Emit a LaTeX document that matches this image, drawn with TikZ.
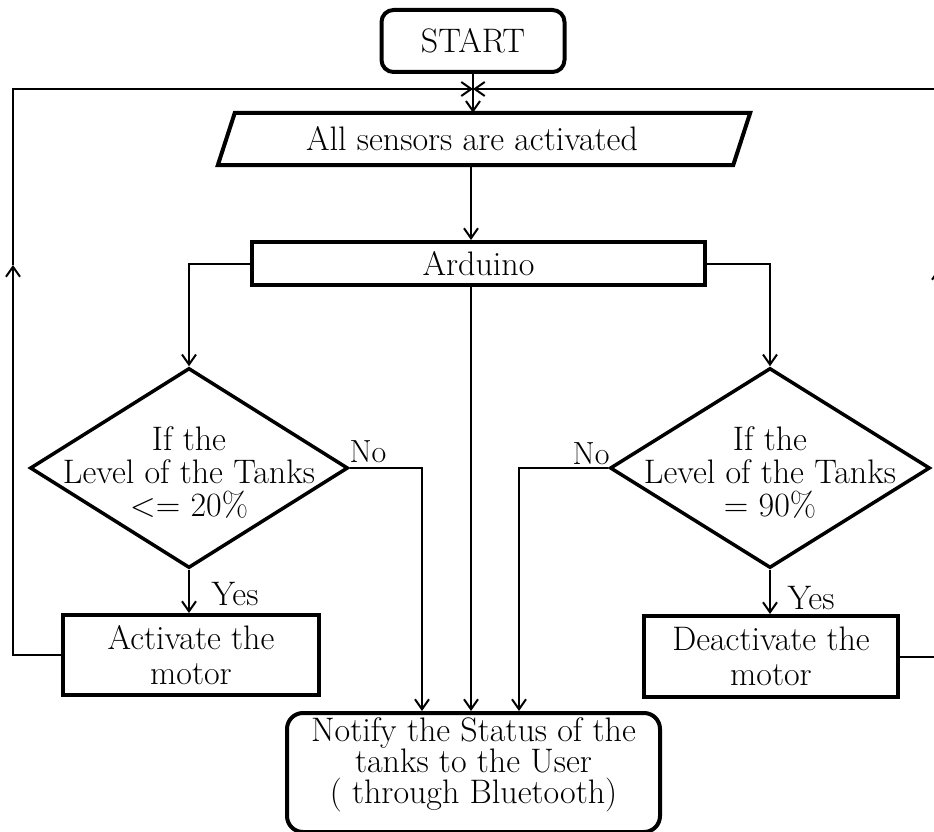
\documentclass[tikz,border=0pt]{standalone}
\usetikzlibrary{shapes.geometric,arrows.meta}
\begin{document}
\begin{tikzpicture}[x=1pt,y=-1pt,
  every node/.style={font=\fontsize{34}{33}\selectfont},
  box/.style={draw, line width=4pt, rectangle, inner sep=0pt, align=center},
  rbox/.style={box, rounded corners=12pt},
  dia/.style={draw, line width=3.5pt, diamond, inner sep=0pt},
  con/.style={line width=2pt},
  arr/.style={con, -{Straight Barb[length=10pt,width=14pt]}},
  nolab/.style={font=\fontsize{32}{32}\selectfont}]
\useasboundingbox (0,0) rectangle (934,832);
% nodes
\node[rbox, minimum width=183pt, minimum height=62pt] (start) at (473,41) {START};
\node[rectangle, inner sep=0pt, minimum width=515pt, minimum height=52pt,
      label={[xshift=-12pt]center:{All sensors are activated}}] (sens) at (484,139) {};
\draw[line width=4pt, line join=miter]
  ([xshift=-8.5pt]sens.south west) -- ([xshift=8.5pt]sens.north west) --
  ([xshift=8.5pt]sens.north east) -- ([xshift=-8.5pt]sens.south east) -- cycle;
\node[box, minimum width=453pt, minimum height=43pt] (ard) at (478.5,263.5) {Arduino};
\node[dia, minimum width=318pt, minimum height=200pt,
      label={[align=center,yshift=-4pt]center:{If the\\Level of the Tanks\\<= 20\%}}] (ldia) at (189,468) {};
\node[dia, minimum width=320pt, minimum height=200pt,
      label={[align=center,yshift=-4pt]center:{If the\\Level of the Tanks\\= 90\%}}] (rdia) at (770,468) {};
\node[box, minimum width=256pt, minimum height=80pt, font=\fontsize{34}{35}\selectfont] (act) at (191,655) {Activate the\\motor};
\node[box, minimum width=254pt, minimum height=81pt, font=\fontsize{34}{35}\selectfont] (deact) at (771,656.5) {Deactivate the\\motor};
\node[rbox, rounded corners=16pt, minimum width=373pt, minimum height=119pt,
      label={[align=center,yshift=8pt,font=\fontsize{34}{31}\selectfont]center:{Notify the Status of the\\tanks to the User\\( through Bluetooth)}}] (note) at (473.5,772.5) {};
% labels
\node[nolab] (nol) at (368,452) {No};
\node[nolab] (nor) at (591,454) {No};
\node (yesl) at (235,594) {Yes};
\node (yesr) at (811,598) {Yes};
% helper coordinates
\coordinate (jn) at (473,89);
\coordinate (cx) at (471,0);
\coordinate (lmid) at (13,265);
\coordinate (rmid) at (939,268);
\coordinate (nlx) at (422,0);
\coordinate (nrx) at (519,0);
% connectors
\draw[arr] (start.south) -- (sens.north -| start.south);
\draw[arr] (sens.south -| cx) -- (ard.north -| cx);
\draw[arr] (ard.south -| cx) -- (note.north -| cx);
\draw[arr] (ard.west) -| (ldia.north);
\draw[arr] (ard.east) -| (rdia.north);
\draw[arr] (ldia.south) -- (act.north -| ldia.south);
\draw[arr] (rdia.south) -- (deact.north -| rdia.south);
\draw[arr] (ldia.east) -| (nlx |- note.north);
\draw[arr] (rdia.west) -| (nrx |- note.north);
\draw[arr] (act.west) -| (lmid);
\draw[arr] (lmid) |- (jn);
\draw[arr] (deact.east) -| (rmid);
\draw[arr] (rmid) |- (jn);
\end{tikzpicture}
\end{document}
